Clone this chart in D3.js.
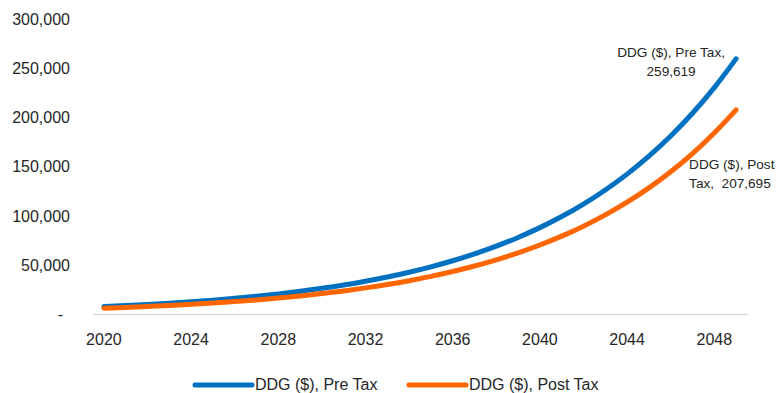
<!DOCTYPE html>
<html lang="en">
<head>
    <meta charset="UTF-8">
    <title>DDG Pre Tax vs Post Tax</title>
    <script src="https://d3js.org/d3.v7.min.js"></script>
    <style>
        body {
            margin: 0;
            background: #fff;
            font-family: "Liberation Sans", Arial, sans-serif;
        }

        .tick text {
            font-size: 16px;
            fill: #262626;
        }

        .data-label {
            font-size: 13.6px;
            fill: #262626;
        }

        .legend-text {
            font-size: 16px;
            fill: #262626;
        }
    </style>
</head>
<body>
    <svg width="779" height="393"></svg>

    <script>
        var years = d3.range(2020, 2050);
        var yearTicks = [2020, 2024, 2028, 2032, 2036, 2040, 2044, 2048];
        var yTicks = [0, 50000, 100000, 150000, 200000, 250000, 300000];

        var preTax = [8000, 9020, 10170, 11470, 12930, 14580, 16440, 18530, 20900, 23560,
                      26560, 29950, 33770, 38070, 42930, 48400, 54570, 61530, 69380, 78220,
                      88200, 99440, 112120, 126420, 142530, 160710, 181200, 204300, 230350, 259619];
        var postTax = [6400, 7220, 8140, 9170, 10340, 11660, 13150, 14830, 16720, 18850,
                       21250, 23960, 27020, 30460, 34340, 38720, 43660, 49230, 55500, 62580,
                       70560, 79550, 89700, 101130, 114030, 128570, 144960, 163440, 184280, 207695];

        var seriesNames = ["DDG ($), Pre Tax", "DDG ($), Post Tax"];
        var colors = ["#0070C0", "#FF6600"];

        var svg = d3.select("svg");

        var x = d3.scaleBand()
            .domain(years)
            .range([93, 747]);

        var y = d3.scaleLinear()
            .domain([0, 300000])
            .range([314.5, 19]);

        // y axis (labels only)
        var yAxis = svg.append("g")
            .attr("transform", "translate(70,0)")
            .call(d3.axisLeft(y)
                .tickValues(yTicks)
                .tickSize(0)
                .tickPadding(0)
                .tickFormat(function(d) { return d === 0 ? "-" : d3.format(",")(d); }));
        yAxis.select(".domain").remove();
        yAxis.selectAll(".tick text")
            .attr("x", function(d) { return d === 0 ? -7 : 0; });

        // x axis
        var xAxis = svg.append("g")
            .attr("transform", "translate(0,314)")
            .call(d3.axisBottom(x)
                .tickValues(yearTicks)
                .tickSize(0)
                .tickSizeOuter(0)
                .tickPadding(20));
        xAxis.select(".domain")
            .attr("stroke", "#d9d9d9")
            .attr("stroke-width", 1.5);

        var line = d3.line()
            .x(function(d, i) { return x(years[i]) + x.bandwidth() / 2; })
            .y(function(d) { return y(d); })
            .curve(d3.curveMonotoneX);

        [preTax, postTax].forEach(function(vals, k) {
            svg.append("path")
                .datum(vals)
                .attr("fill", "none")
                .attr("stroke", colors[k])
                .attr("stroke-width", 5)
                .attr("stroke-linecap", "round")
                .attr("stroke-linejoin", "round")
                .attr("d", line);
        });

        // data labels at the last point
        var lastX = x(years[years.length - 1]) + x.bandwidth() / 2;
        var preLabel = svg.append("text")
            .attr("class", "data-label")
            .attr("text-anchor", "middle")
            .attr("x", lastX - 65)
            .attr("y", y(preTax[preTax.length - 1]) - 2);
        preLabel.append("tspan").text("DDG ($), Pre Tax,");
        preLabel.append("tspan")
            .attr("x", lastX - 65)
            .attr("dy", 19)
            .text(d3.format(",")(preTax[preTax.length - 1]));

        var postLabel = svg.append("text")
            .attr("class", "data-label")
            .attr("xml:space", "preserve")
            .attr("x", lastX - 47)
            .attr("y", y(postTax[postTax.length - 1]) + 59);
        postLabel.append("tspan").text("DDG ($), Post");
        postLabel.append("tspan")
            .attr("x", lastX - 47)
            .attr("dy", 19)
            .text("Tax,  " + d3.format(",")(postTax[postTax.length - 1]));

        // legend
        var legendX = [195, 409];
        seriesNames.forEach(function(name, k) {
            svg.append("line")
                .attr("x1", legendX[k])
                .attr("x2", legendX[k] + 57)
                .attr("y1", 385)
                .attr("y2", 385)
                .attr("stroke", colors[k])
                .attr("stroke-width", 5)
                .attr("stroke-linecap", "round");
            svg.append("text")
                .attr("class", "legend-text")
                .attr("x", legendX[k] + 60)
                .attr("y", 389.5)
                .text(name);
        });
    </script>
</body>
</html>
